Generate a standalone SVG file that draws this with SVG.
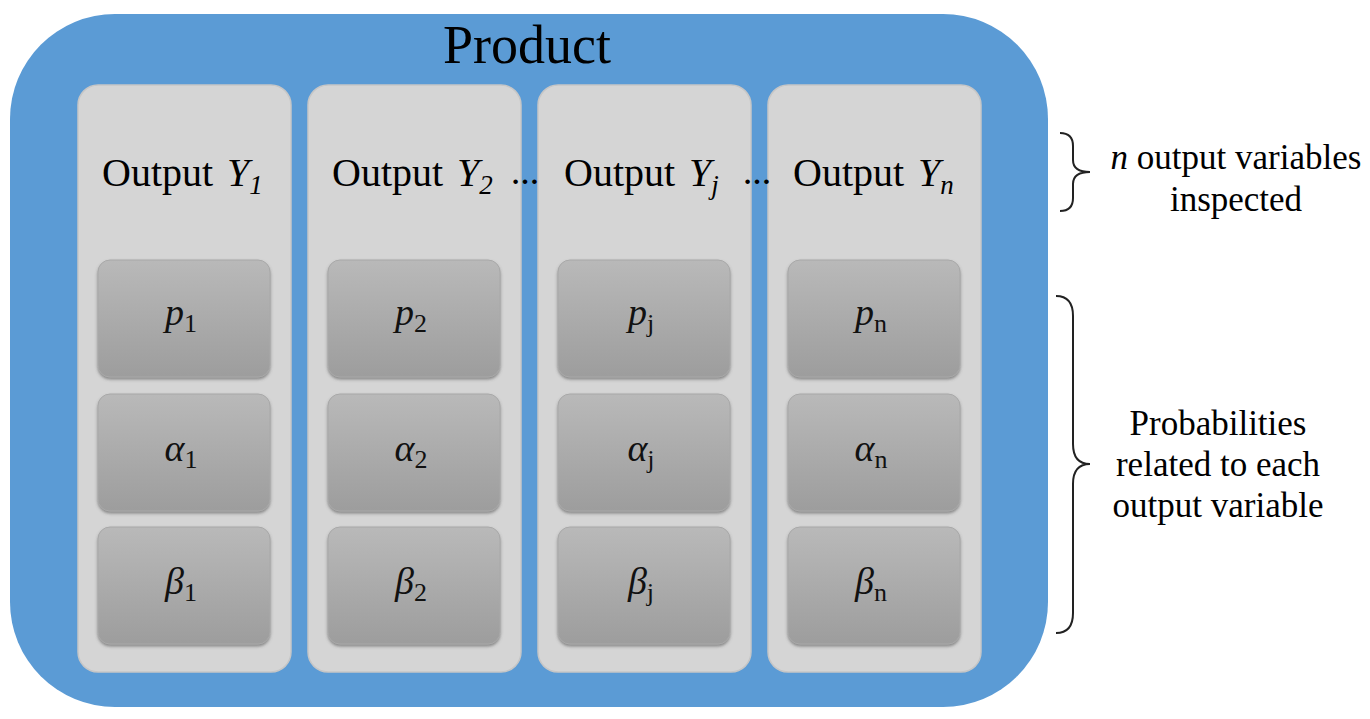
<svg xmlns="http://www.w3.org/2000/svg" width="1370" height="719" viewBox="0 0 1370 719">
<style>
.col{fill:#d5d5d5;stroke:#c6c6c6;stroke-width:1.5}
.box{fill:url(#g);stroke:#a8a8a8;stroke-width:1;filter:url(#sh)}
.t{font-family:'Liberation Serif','Times New Roman',serif;fill:#000}
.hd{font-size:40px}
.m{font-family:'Liberation Serif','Times New Roman',serif;font-size:38px;font-style:italic;fill:#111;text-anchor:middle}
.sub{font-style:normal;font-size:26px}
.rt{font-family:'Liberation Serif','Times New Roman',serif;font-size:35px;text-anchor:middle;fill:#000}
.br{fill:none;stroke:#222;stroke-width:2}
</style>
<defs>
<linearGradient id="g" x1="0" y1="0" x2="0" y2="1">
<stop offset="0" stop-color="#b9b9b9"/>
<stop offset="1" stop-color="#9d9d9d"/>
</linearGradient>
<filter id="sh" x="-10%" y="-10%" width="120%" height="125%">
<feDropShadow dx="0" dy="2" stdDeviation="1.5" flood-color="#555" flood-opacity="0.6"/>
</filter>
</defs>
<rect width="1370" height="719" fill="#fff"/>
<g id="product">
<rect x="10" y="14" width="1038" height="693" rx="105" fill="#5b9bd5"/>
<text class="t" x="527" y="63" font-size="54" text-anchor="middle">Product</text>
</g>
<g id="col1">
<rect class="col" x="78" y="85" width="213" height="587" rx="20"/>
<text class="t hd" x="102" y="186">Output</text>
<text class="t hd" x="227" y="186" font-style="italic">Y<tspan font-size="27" dy="8">1</tspan></text>
</g>
<g id="col2">
<rect class="col" x="308" y="85" width="213" height="587" rx="20"/>
<text class="t hd" x="332" y="186">Output</text>
<text class="t hd" x="457" y="186" font-style="italic">Y<tspan font-size="27" dy="8">2</tspan></text>
</g>
<g id="col3">
<rect class="col" x="538" y="85" width="213" height="587" rx="20"/>
<text class="t hd" x="564" y="186">Output</text>
<text class="t hd" x="689" y="186" font-style="italic">Y<tspan font-size="27" dy="8">j</tspan></text>
</g>
<g id="col4">
<rect class="col" x="768" y="85" width="213" height="587" rx="20"/>
<text class="t hd" x="793" y="186">Output</text>
<text class="t hd" x="918" y="186" font-style="italic">Y<tspan font-size="27" dy="8">n</tspan></text>
</g>
<g id="dots">
<text class="t" x="525" y="184" font-size="28" font-weight="bold" text-anchor="middle">…</text>
<text class="t" x="757" y="184" font-size="28" font-weight="bold" text-anchor="middle">…</text>
</g>
<g id="p1"><rect class="box" x="98" y="260" width="172" height="117" rx="12"/><text class="m" x="181" y="325">p<tspan class="sub" dy="7">1</tspan></text></g>
<g id="a1"><rect class="box" x="98" y="394" width="172" height="117" rx="12"/><text class="m" x="181" y="461">α<tspan class="sub" dy="7">1</tspan></text></g>
<g id="b1"><rect class="box" x="98" y="527" width="172" height="117" rx="12"/><text class="m" x="181" y="594">β<tspan class="sub" dy="7">1</tspan></text></g>
<g id="p2"><rect class="box" x="328" y="260" width="172" height="117" rx="12"/><text class="m" x="411" y="325">p<tspan class="sub" dy="7">2</tspan></text></g>
<g id="a2"><rect class="box" x="328" y="394" width="172" height="117" rx="12"/><text class="m" x="411" y="461">α<tspan class="sub" dy="7">2</tspan></text></g>
<g id="b2"><rect class="box" x="328" y="527" width="172" height="117" rx="12"/><text class="m" x="411" y="594">β<tspan class="sub" dy="7">2</tspan></text></g>
<g id="pj"><rect class="box" x="558" y="260" width="172" height="117" rx="12"/><text class="m" x="641" y="325">p<tspan class="sub" dy="7" font-style="italic">j</tspan></text></g>
<g id="aj"><rect class="box" x="558" y="394" width="172" height="117" rx="12"/><text class="m" x="641" y="461">α<tspan class="sub" dy="7" font-style="italic">j</tspan></text></g>
<g id="bj"><rect class="box" x="558" y="527" width="172" height="117" rx="12"/><text class="m" x="641" y="594">β<tspan class="sub" dy="7" font-style="italic">j</tspan></text></g>
<g id="pn"><rect class="box" x="788" y="260" width="172" height="117" rx="12"/><text class="m" x="871" y="325">p<tspan class="sub" dy="7" font-style="italic">n</tspan></text></g>
<g id="an"><rect class="box" x="788" y="394" width="172" height="117" rx="12"/><text class="m" x="871" y="461">α<tspan class="sub" dy="7" font-style="italic">n</tspan></text></g>
<g id="bn"><rect class="box" x="788" y="527" width="172" height="117" rx="12"/><text class="m" x="871" y="594">β<tspan class="sub" dy="7" font-style="italic">n</tspan></text></g>
<g id="connectors">
<path class="br" d="M1060,133 Q1073,133 1073,146 L1073,160 Q1073,172 1090,172 Q1073,172 1073,184 L1073,198 Q1073,211 1060,211"/>
<path class="br" d="M1056,296 Q1073,296 1073,316 L1073,444 Q1073,464 1090,464 Q1073,464 1073,484 L1073,613 Q1073,633 1056,633"/>
</g>
<g id="label-outputs">
<text class="rt" x="1236" y="169"><tspan font-style="italic">n</tspan> output variables</text>
<text class="rt" x="1236" y="211">inspected</text>
</g>
<g id="label-probs">
<text class="rt" x="1218" y="435">Probabilities</text>
<text class="rt" x="1218" y="476">related to each</text>
<text class="rt" x="1218" y="517">output variable</text>
</g>
</svg>
